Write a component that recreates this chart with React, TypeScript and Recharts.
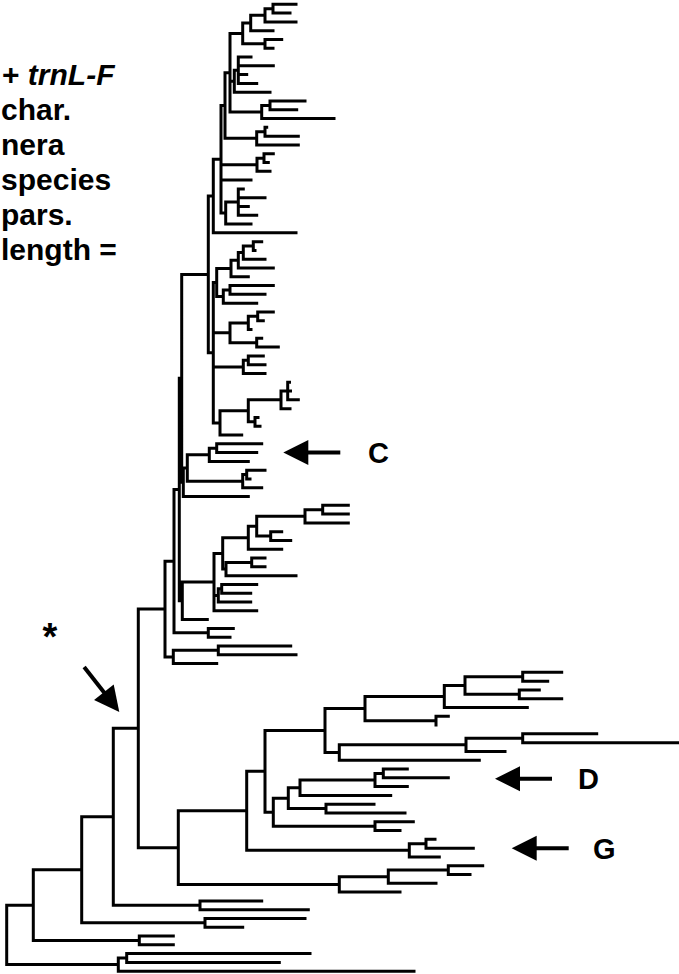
import React from 'react';
import { ComposedChart, Line, Scatter, XAxis, YAxis } from 'recharts';

// tree notation: internal node = [x, ...children], leaf = tip x (leaves are stacked top to bottom)
type Tree = number | Tree[];

// leaves 1-27 (top of the big upper clade)
const cladeTop: Tree = [213.3,
  [221,
    [225,
      [230,
        [242.7, [250.7, [265, [273, 296, 290], 296], 273], [265, 281.7, 273]],
        [234.3, [238.3, 251, 273.3, 246.7, 256.7], 270],
        [261.7, [270, 305, 296.7], 334]],
      [256.7, [265, 266.7, 298.3], 298.3]],
    [257, [264, 273.3, 268.3], 270],
    251,
    [225.7, [238.3, 243.3, 265, 248.3, 256.7], 251]],
  296];

const cladeMid: Tree = [213.3,
  [216.7, [231, [238.3, [243.3, [253.3, 261.7, 255], 265], 273.3], 248.3], [223.3, [230, 273.3, 265], 256.7]],
  [230, [248.3, [257.7, 273.3, 263.3], 251], [256.7, 261.7, 278.3]],
  [243.3, [248.3, 263.3, 265], 265],
  [220, [248.3, [281, [287.7, 289.5, 290.5, 298.3], 290], [255, 258, 260]], 241.7]];

// clade marked C
const cladeC: Tree = [183.3, [187.3, [209.3, [216.7, 261.7, 256.7], 248.3], [242.7, [246.7, 265, 250], 261.7]], 248.3];

const cladeLow: Tree = [182.3,
  [214,
    [222.7,
      [248.3, [256.7, [305, [322.7, 348.3, 348.3], 348.3], [270.7, 281.7, 290.7]], 281.7],
      [226, [251.7, 265, 265], 296]],
    [218.3, [221.7, 256.7, 250.7], 250.7],
    256.7],
  207.3];

const upperClade: Tree = [165,
  [174, [179.3, [181.7, [208.3, cladeTop, cladeMid], cladeC], cladeLow], [208.3, 233.3, 230]],
  [173.3, [218.3, 290.7, 296], 216.7]];

// clades marked D and G
const cladeDG: Tree = [178.3,
  [246.7,
    [265,
      [325,
        [365, [444.3, [465, [522.7, 561.7, 547.7], [519.3, 539.3, 561.7]], 527.3], [436, 448.3, 436]],
        [339.3, [466, [522.7, 596.7, 679], 505], 479.3]],
      [273.3,
        [288.3, [300, [375, [383.3, 407.3, 448.3], 407.3], 390.7], [326, 374, 405]],
        [375, 413.3, 400]]],
    [409.3, [426, 435, 473.3], 439.3]],
  [339.3, [388.3, [448.3, 482.7, 470], 436], 400]];

const tree: Tree = [6.7,
  [33.3,
    [81.7,
      [113.3, [138.3, upperClade, cladeDG], [200, 261.7, 308.3]],
      [205, 305, 242.7]],
    [139.3, 173.3, 173.3]],
  [118.3, [126.7, 310, 279.3], 414]];

// annotations (x in chart units, y in leaf rows)
const arrows = [
  { x: 283.3, y: 51, angle: 180 },
  { x: 495, y: 88.1, angle: 180 },
  { x: 511.7, y: 96, angle: 180 },
  { x: 119.3, y: 80.5, angle: 51.9 },
];
const labels = [
  { x: 368, y: 51, text: 'C' },
  { x: 578, y: 88.1, text: 'D' },
  { x: 593, y: 96, text: 'G' },
  { x: 50, y: 71, text: '*' },
];

const titleLines = ['char.', 'nera', 'species', 'pars.', 'length ='];

const W = 679;
const H = 974;
const FONT = 'Liberation Sans, Arial, sans-serif';

type Pt = { x: number; y: number | null };

function layoutTree(root: Tree) {
  const pts: Pt[] = [];
  let leaf = 0;
  const seg = (x1: number, y1: number, x2: number, y2: number) => {
    pts.push({ x: x1, y: y1 }, { x: x2, y: y2 }, { x: x2, y: null });
  };
  const walk = (node: Tree, parentX: number | null): number => {
    let x: number;
    let y: number;
    if (typeof node === 'number') {
      x = node;
      y = leaf++;
    } else {
      const [nx, ...kids] = node as [number, ...Tree[]];
      x = nx;
      const ys = kids.map(k => walk(k, x));
      y = (ys[0] + ys[ys.length - 1]) / 2;
      seg(x, ys[0], x, ys[ys.length - 1]);
    }
    if (parentX !== null) seg(parentX, y, x, y);
    return y;
  };
  walk(root, null);
  return { pts, leaves: leaf };
}

const { pts: segments, leaves } = layoutTree(tree);
// leaf rows: first at 4.3px, 8.79px apart
const yDomain = [-4.3 / 8.79, leaves - 1 + (H - 4.3 - (leaves - 1) * 8.79) / 8.79];

const ArrowShape = (props: any) => {
  const { cx, cy, payload } = props;
  return (
    <g transform={`translate(${cx},${cy}) rotate(${payload.angle})`}>
      <polygon points="0,0 -25,-12.5 -25,12.5" fill="#000" />
      <line x1={-23} y1={0} x2={-57} y2={0} stroke="#000" strokeWidth={4} />
    </g>
  );
};

const LabelShape = (props: any) => {
  const { cx, cy, payload } = props;
  const star = payload.text === '*';
  return (
    <text
      x={cx}
      y={cy}
      dy={star ? '0.56em' : '0.36em'}
      textAnchor={star ? 'middle' : 'start'}
      fontFamily={FONT}
      fontWeight="bold"
      fontSize={star ? 38 : 29}
      fill="#000"
    >
      {payload.text}
    </text>
  );
};

export default function App() {
  return (
    <div style={{ position: 'absolute', left: 0, top: 0, width: W, height: H, background: '#fff', overflow: 'hidden' }}>
      <ComposedChart width={W} height={H} data={segments} margin={{ top: 0, right: 0, bottom: 0, left: 0 }}>
        <XAxis type="number" dataKey="x" domain={[0, W]} hide allowDataOverflow />
        <YAxis type="number" domain={yDomain} reversed hide allowDataOverflow />
        <Line
          dataKey="y"
          stroke="#000"
          strokeWidth={3}
          strokeLinecap="square"
          dot={false}
          activeDot={false}
          connectNulls={false}
          isAnimationActive={false}
        />
        <Scatter data={arrows} dataKey="y" shape={ArrowShape} isAnimationActive={false} />
        <Scatter data={labels} dataKey="y" shape={LabelShape} isAnimationActive={false} />
      </ComposedChart>
      <svg width={W} height={280} style={{ position: 'absolute', left: 0, top: 0, pointerEvents: 'none' }}>
        <text x={2} y={85} fontFamily={FONT} fontWeight="bold" fontSize={30} fill="#000">
          {'+ '}
          <tspan fontStyle="italic">trnL-F</tspan>
        </text>
        {titleLines.map((t, i) => (
          <text key={t} x={1} y={120 + i * 35} fontFamily={FONT} fontWeight="bold" fontSize={30} fill="#000">
            {t}
          </text>
        ))}
      </svg>
    </div>
  );
}
